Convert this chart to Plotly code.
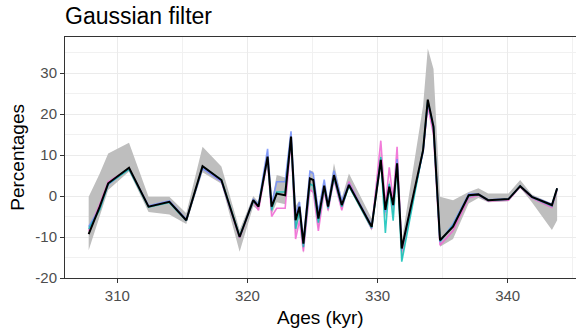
import plotly.graph_objects as go

ages = [307.8, 308.65, 309.3, 310.9, 312.4, 314.0, 315.3, 316.55, 318.0, 319.4,
        320.45, 320.85, 321.55, 321.86, 322.25, 322.9, 323.35, 323.7, 324.0, 324.3,
        324.8, 325.06, 325.45, 325.9, 326.2, 326.65, 327.25, 327.8, 329.55, 330.25,
        330.6, 330.9, 331.2, 331.5, 331.86, 333.5, 333.86, 334.3, 334.8, 335.8,
        337.0, 337.75, 338.5, 340.06, 340.96, 341.86, 343.4, 343.8]

mean_line = [-9.3, -2.6, 3.1, 6.9, -2.6, -1.4, -5.9, 7.3, 3.9, -10.0,
             -1.0, -2.6, 9.6, -2.6, 0.6, 0.2, 14.5, -5.9, -2.6, -11.6,
             4.3, 3.9, -5.5, 2.5, -2.6, 5.1, -2.2, 2.7, -7.5, 8.8,
             -3.4, 2.3, -2.2, 8.0, -12.8, 11.2, 23.5, 16.9, -10.8, -7.5,
             0.2, 0.4, -1.0, -0.75, 2.4, -0.2, -2.2, 1.9]

pink = [-8.5, -2.0, 3.5, 6.6, -2.6, -1.4, -6.0, 7.0, 3.6, -10.2,
        -1.2, -3.5, 8.8, -5.0, -3.0, -3.0, 13.8, -10.5, -6.0, -13.5,
        1.5, 1.0, -8.5, 1.2, -3.5, 4.0, -3.5, 3.5, -8.0, 13.5,
        -2.5, 7.0, -1.0, 12.0, -13.5, 11.0, 22.0, 15.0, -12.0, -8.5,
        -0.5, 0.2, -1.2, -1.0, 2.2, -0.5, -2.8, 1.5]

blue = [-7.5, -3.0, 2.8, 6.8, -2.4, -1.2, -5.7, 6.7, 3.6, -10.0,
        -0.8, -2.0, 11.5, -2.0, 3.5, 3.5, 15.8, -4.5, -1.5, -11.0,
        6.0, 5.5, -4.0, 4.0, -2.0, 6.2, -1.2, 3.0, -7.2, 8.5,
        -4.0, 2.8, -2.5, 9.0, -13.0, 10.8, 23.0, 17.2, -11.2, -6.8,
        0.5, 0.5, -0.9, -0.7, 2.5, -0.1, -2.0, 1.9]

teal = [-8.0, -3.3, 3.0, 6.5, -2.7, -1.6, -6.0, 7.2, 4.0, -9.8,
        -1.3, -2.4, 9.2, -3.5, 1.0, 1.0, 14.0, -8.0, -3.5, -12.5,
        3.0, 2.5, -6.5, 2.0, -3.0, 4.5, -2.6, 2.4, -7.8, 9.5,
        -9.0, 3.0, -6.0, 8.0, -16.0, 11.3, 23.2, 16.5, -11.0, -7.2,
        0.0, 0.3, -1.1, -0.8, 2.4, -0.3, -2.4, 1.8]

band_upper = [-0.2, 5.5, 10.4, 13.0, -0.2, -0.2, -4.2, 12.0, 7.2, -8.3,
              0.0, -1.5, 11.5, -1.5, 5.1, 4.5, 16.0, -2.5, -1.0, -10.0,
              6.3, 6.0, -3.0, 4.0, -1.0, 8.0, -0.5, 5.5, -5.5, 11.0,
              -2.0, 4.0, -1.0, 10.0, -11.0, 22.0, 36.0, 31.0, -0.2, -1.0,
              1.0, 1.9, 0.6, 0.6, 3.9, 0.4, -1.8, 1.9]

band_lower = [-13.2, -5.0, 1.5, 6.0, -3.9, -4.5, -6.8, 5.8, 3.0, -13.6,
              -2.5, -3.5, 8.0, -4.5, -1.5, -2.0, 13.0, -9.5, -5.0, -14.0,
              1.5, 0.5, -8.5, 1.0, -4.0, 4.0, -3.5, 2.0, -8.5, 6.5,
              -5.5, 1.0, -5.0, 6.0, -16.0, 10.5, 22.0, 15.0, -12.4, -10.5,
              -1.8, -0.5, -1.5, -1.3, 2.0, -1.5, -8.3, -5.9]

x_ticks = [310, 320, 330, 340]
y_ticks = [-20, -10, 0, 10, 20, 30]

fig = go.Figure()
fig.add_trace(go.Scatter(x=ages, y=band_lower, mode="lines", line=dict(width=0),
                         showlegend=False, hoverinfo="skip"))
fig.add_trace(go.Scatter(x=ages, y=band_upper, mode="lines", line=dict(width=0),
                         fill="tonexty", fillcolor="rgb(190,190,190)",
                         showlegend=False, hoverinfo="skip"))
for vals, col in [(pink, "rgba(240,100,210,0.85)"), (blue, "rgba(110,140,255,0.8)"),
                  (teal, "rgba(0,190,180,0.8)")]:
    fig.add_trace(go.Scatter(x=ages, y=vals, mode="lines", line=dict(color=col, width=1.6),
                             showlegend=False))
fig.add_trace(go.Scatter(x=ages, y=mean_line, mode="lines", line=dict(color="black", width=2),
                         showlegend=False))

axis_common = dict(showline=True, linecolor="#333333", linewidth=1, mirror=True,
                   ticks="outside", ticklen=4, tickcolor="#333333", tickwidth=1,
                   gridcolor="#ebebeb", gridwidth=1, zeroline=False,
                   tickfont=dict(family="Liberation Sans, Arial", size=15, color="#4d4d4d"))

fig.update_layout(
    width=576, height=334,
    margin=dict(l=65, r=0, t=37, b=56),
    paper_bgcolor="white", plot_bgcolor="white",
    title=dict(text="Gaussian filter", x=65/576, xanchor="left", xref="container",
               y=1 - 16/334, yanchor="middle", yref="container",
               font=dict(family="Liberation Sans, Arial", size=23, color="black")),
    xaxis=dict(range=[305.98, 345.25], tickvals=x_ticks, ticktext=[str(v) for v in x_ticks],
               minor=dict(dtick=5, tick0=305, showgrid=True, gridcolor="#f1f1f1", gridwidth=0.6, ticks=""),
               **axis_common),
    yaxis=dict(range=[-20, 38.8], tickvals=y_ticks, ticktext=[str(v) for v in y_ticks],
               minor=dict(dtick=5, tick0=-25, showgrid=True, gridcolor="#f1f1f1", gridwidth=0.6, ticks=""),
               **axis_common),
    annotations=[
        dict(text="Ages (kyr)", xref="paper", yref="paper", x=0.5, y=-0.165, yanchor="middle",
             xanchor="center", showarrow=False,
             font=dict(family="Liberation Sans, Arial", size=19, color="black")),
        dict(text="Percentages", xref="paper", yref="paper", x=-0.0935, y=0.5, xanchor="center",
             yanchor="middle", textangle=-90, showarrow=False,
             font=dict(family="Liberation Sans, Arial", size=19, color="black")),
    ],
)

fig.write_html("out.html")
